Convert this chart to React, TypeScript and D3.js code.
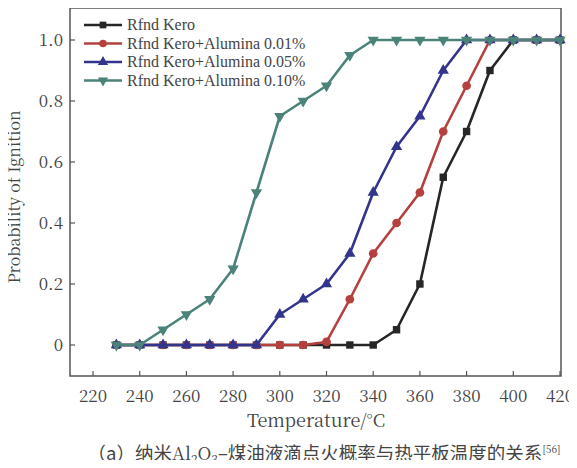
import * as d3 from 'd3';
import { useEffect, useRef } from 'react';

const temps = [230, 240, 250, 260, 270, 280, 290, 300, 310, 320, 330, 340, 350, 360, 370, 380, 390, 400, 410, 420];
const keroBase = [0, 0, 0, 0, 0, 0, 0, 0, 0, 0, 0, 0, 0.05, 0.2, 0.55, 0.7, 0.9, 1, 1, 1];
const alumina001 = [0, 0, 0, 0, 0, 0, 0, 0, 0, 0.01, 0.15, 0.3, 0.4, 0.5, 0.7, 0.85, 1, 1, 1, 1];
const alumina005 = [0, 0, 0, 0, 0, 0, 0, 0.1, 0.15, 0.2, 0.3, 0.5, 0.65, 0.75, 0.9, 1, 1, 1, 1, 1];
const alumina010 = [0, 0, 0.05, 0.1, 0.15, 0.25, 0.5, 0.75, 0.8, 0.85, 0.95, 1, 1, 1, 1, 1, 1, 1, 1, 1];

const seriesNames = ['Rfnd Kero', 'Rfnd Kero+Alumina 0.01%', 'Rfnd Kero+Alumina 0.05%', 'Rfnd Kero+Alumina 0.10%'];
const seriesValues = [keroBase, alumina001, alumina005, alumina010];
const seriesColors = ['#262626', '#b5413f', '#33348c', '#4b8279'];
const seriesMarkers = [d3.symbolSquare, d3.symbolCircle, d3.symbolTriangle, 'down'];

const xTicks = [220, 240, 260, 280, 300, 320, 340, 360, 380, 400, 420];
const yTicks = [0, 0.2, 0.4, 0.6, 0.8, 1.0];

function App() {
    const svgRef = useRef<SVGSVGElement | null>(null);

    useEffect(() => {
        const svg = d3.select(svgRef.current);
        svg.selectAll('*').remove();

        const [left, right, top, bottom] = [70, 561, 8, 376];
        // 把 0/1 和 220/420 对到参考图的位置
        const y = d3.scaleLinear()
            .domain([0 - (bottom - 345) / 305, 1 + (40 - top) / 305])
            .range([bottom, top]);
        const x = d3.scaleLinear()
            .domain([220 - (93 - left) / (467 / 200), 420 + (right - 560) / (467 / 200)])
            .range([left, right]);

        const serif = '"Noto Serif CJK SC", "Liberation Serif", serif';
        const times = '"Liberation Serif", serif';
        const axisColor = '#555';
        const textColor = '#444';

        // 坐标框
        svg.append('rect')
            .attr('x', left).attr('y', top)
            .attr('width', right - left).attr('height', bottom - top)
            .attr('fill', 'none').attr('stroke', axisColor).attr('stroke-width', 1.5);

        // x 刻度
        const gx = svg.append('g');
        gx.selectAll('line').data(xTicks).join('line')
            .attr('x1', d => x(d)).attr('x2', d => x(d))
            .attr('y1', bottom).attr('y2', bottom - 5)
            .attr('stroke', axisColor).attr('stroke-width', 1.2);
        gx.selectAll('text').data(xTicks).join('text')
            .attr('x', d => x(d)).attr('y', bottom + 26)
            .attr('text-anchor', 'middle')
            .style('font-family', serif).style('font-size', '17px').attr('fill', textColor)
            .text(d => d);

        // y 刻度
        const gy = svg.append('g');
        gy.selectAll('line').data(yTicks).join('line')
            .attr('x1', left).attr('x2', left + 5)
            .attr('y1', d => y(d)).attr('y2', d => y(d))
            .attr('stroke', axisColor).attr('stroke-width', 1.2);
        gy.selectAll('text').data(yTicks).join('text')
            .attr('x', left - 7).attr('y', d => y(d) + 6)
            .attr('text-anchor', 'end')
            .style('font-family', serif).style('font-size', '17px').attr('fill', textColor)
            .text(d => d === 0 ? '0' : d.toFixed(1));

        // 轴标题
        svg.append('text')
            .attr('x', 316).attr('y', 427)
            .attr('text-anchor', 'middle')
            .style('font-family', serif).style('font-size', '18px').attr('fill', textColor)
            .text('Temperature/°C');
        svg.append('text')
            .attr('transform', `translate(20,${(top + bottom) / 2 + 5}) rotate(-90)`)
            .attr('text-anchor', 'middle')
            .style('font-family', serif).style('font-size', '16px').attr('fill', textColor)
            .text('Probability of Ignition');

        // 图注
        const cap = svg.append('text')
            .attr('x', 324).attr('y', 460)
            .attr('text-anchor', 'middle')
            .style('font-family', '"Noto Sans CJK SC", sans-serif').style('font-size', '18.5px').attr('fill', textColor);
        cap.append('tspan').text('（a）纳米');
        cap.append('tspan').style('font-family', serif).style('font-size', '18px').text('Al');
        cap.append('tspan').style('font-family', serif).style('font-size', '12px').attr('dy', 4).text('2');
        cap.append('tspan').style('font-family', serif).style('font-size', '18px').attr('dy', -4).text('O');
        cap.append('tspan').style('font-family', serif).style('font-size', '12px').attr('dy', 4).text('3');
        cap.append('tspan').attr('dy', -4).text('–煤油液滴点火概率与热平板温度的关系');
        cap.append('tspan').style('font-family', serif).style('font-size', '10px').attr('dy', -7).text('[56]');

        const line = d3.line<number>()
            .x((_, i) => x(temps[i]))
            .y(d => y(d));

        const markerPath = (m: any, size: number) => {
            if (m === 'down') {
                return d3.symbol(d3.symbolTriangle, size)() as string;
            }
            return d3.symbol(m, size)() as string;
        };

        // 画四条曲线
        seriesValues.forEach((vals, k) => {
            const g = svg.append('g');
            g.append('path')
                .datum(vals)
                .attr('fill', 'none')
                .attr('stroke', seriesColors[k])
                .attr('stroke-width', 2.6)
                .attr('stroke-linejoin', 'round')
                .attr('d', line);
            g.selectAll('path.m').data(vals).join('path')
                .attr('class', 'm')
                .attr('transform', (d, i) => `translate(${x(temps[i])},${y(d)})${seriesMarkers[k] === 'down' ? ' rotate(180)' : ''}`)
                .attr('d', markerPath(seriesMarkers[k], seriesMarkers[k] === d3.symbolCircle ? 60 : 55))
                .attr('fill', seriesColors[k]);
        });

        // 图例
        const lg = svg.append('g');
        seriesNames.forEach((name, k) => {
            const ly = 25 + k * 18.5;
            lg.append('line')
                .attr('x1', 84).attr('x2', 122).attr('y1', ly).attr('y2', ly)
                .attr('stroke', seriesColors[k]).attr('stroke-width', 2.6);
            lg.append('path')
                .attr('transform', `translate(103,${ly})${seriesMarkers[k] === 'down' ? ' rotate(180)' : ''}`)
                .attr('d', markerPath(seriesMarkers[k], 45))
                .attr('fill', seriesColors[k]);
            lg.append('text')
                .attr('x', 127).attr('y', ly + 5)
                .style('font-family', times).style('font-size', '16px').attr('fill', textColor)
                .text(name);
        });
    }, []);

    return (
        <div style={{ margin: '-8px' }}>
            <svg ref={svgRef} width={577} height={468} style={{ display: 'block', background: '#fff' }} />
        </div>
    );
}

export default App;
